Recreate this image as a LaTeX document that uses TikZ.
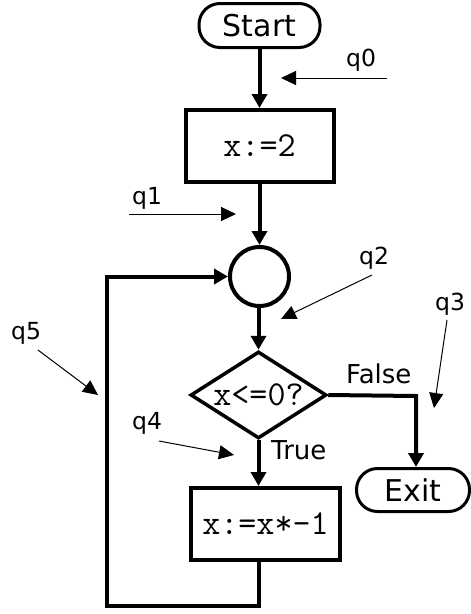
\documentclass[tikz,border=0pt]{standalone}
\usepackage{fontspec}
\setmainfont{DejaVu Sans}
\usetikzlibrary{arrows.meta,shapes.geometric}
\tikzset{
  flow/.style={line width=4pt,-{Triangle[length=14pt,width=15pt]}},
  plain/.style={line width=4pt},
  hint/.style={line width=1pt,-{Triangle[length=15pt,width=14pt]}},
  term/.style={draw,line width=3pt,rounded corners=21pt,fill=white,inner sep=0pt,
    font=\fontsize{30}{36}\selectfont},
  codetext/.style={font=\ttfamily\fontsize{35}{40}\selectfont},
  procbox/.style={draw,line width=4pt,fill=white,inner sep=0pt,minimum width=148pt,
    minimum height=72pt,codetext},
  lbl/.style={inner sep=0pt,anchor=base west,font=\fontsize{23.5}{28}\selectfont},
  tf/.style={inner sep=0pt,anchor=base west,font=\fontsize{26}{30}\selectfont},
}
\begin{document}
\begin{tikzpicture}[x=1pt,y=-1pt]
\useasboundingbox (0,0) rectangle (471,614);
% nodes
\node[term,minimum width=121pt,minimum height=44pt] (start) at (259.5,25.5) {Start};
\node[procbox] (b1) at (259.5,146) {x:=2};
\node[draw,circle,line width=4pt,fill=white,minimum size=59pt,inner sep=0pt] (c) at (259.5,276.5) {};
\node[draw,diamond,line width=3.5pt,fill=white,aspect=1.53,inner sep=0pt,
  minimum width=136pt,minimum height=87pt,codetext] (d) at (258.5,395) {x<=0?};
\node[procbox,minimum width=149pt] (b2) at (265.5,524) {x:=x*-1};
\node[term,minimum width=113pt,minimum height=43pt] (exit) at (413,490) {Exit};
% coordinates
\coordinate (fc) at (416,396);
\coordinate (rb) at (258.5,606);
\coordinate (lb) at (107,606);
% connectors
\draw[flow] (start.south) -- (b1.north);
\draw[flow] (b1.south) -- (c.north);
\draw[flow] (c.south -| d.north) -- (d.north);
\draw[flow] (d.south) -- (d.south |- b2.north);
\draw[flow] (d.east) -- (fc) -- (fc |- exit.north);
\draw[flow] (rb |- b2.south) -- (rb) -- (lb) |- (c.west);
% labels
\node[tf] (false) at (346,383) {False};
\node[tf] (true) at (271,459) {True};
\node[lbl] (q0) at (346,66) {q0};
\node[lbl] (q1) at (132,204) {q1};
\node[lbl] (q2) at (359,264) {q2};
\node[lbl] (q3) at (435,310) {q3};
\node[lbl] (q4) at (132,429) {q4};
\node[lbl] (q5) at (11,339) {q5};
% hint arrows
\coordinate (h0a) at (387,78); \coordinate (h0b) at (281,78);
\coordinate (h1a) at (129,214); \coordinate (h1b) at (236,214);
\coordinate (h2a) at (372,275); \coordinate (h2b) at (281,319);
\coordinate (h3a) at (447,320); \coordinate (h3b) at (434,408);
\coordinate (h4a) at (159,441); \coordinate (h4b) at (234,455);
\coordinate (h5a) at (38,350); \coordinate (h5b) at (98,395);
\draw[hint] (h0a) -- (h0b);
\draw[hint] (h1a) -- (h1b);
\draw[hint] (h2a) -- (h2b);
\draw[hint] (h3a) -- (h3b);
\draw[hint] (h4a) -- (h4b);
\draw[hint] (h5a) -- (h5b);
\end{tikzpicture}
\end{document}
